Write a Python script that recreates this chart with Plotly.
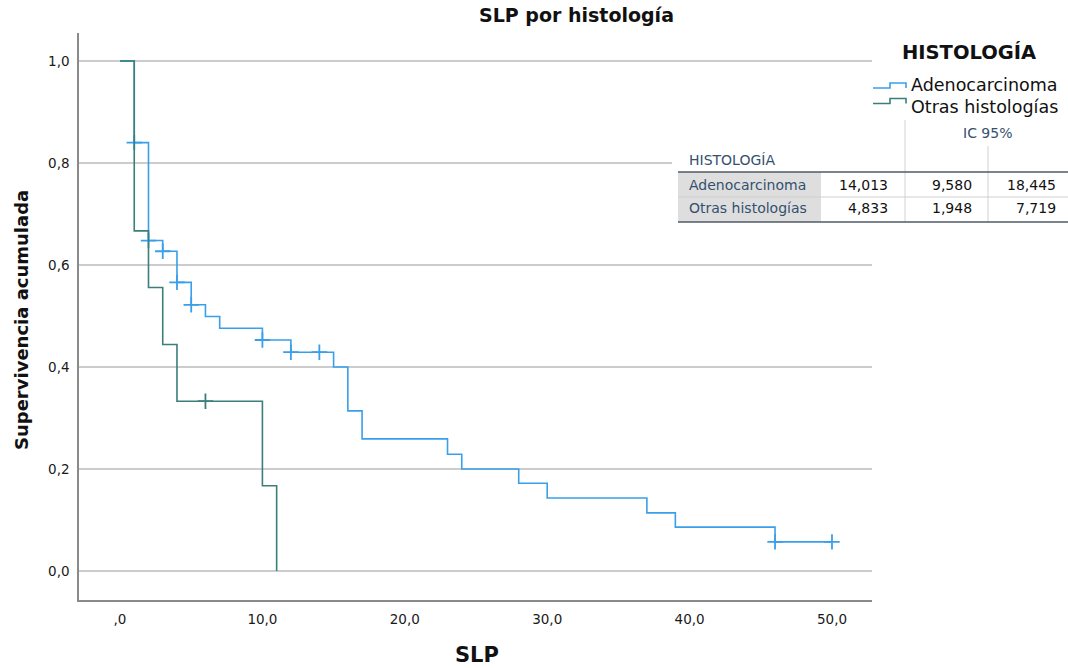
import plotly.graph_objects as go

# ---------------- data ----------------
ade_t = [0, 1, 2, 3, 4, 5, 6, 7, 10, 12, 15, 16, 17, 23, 24, 28, 30, 37, 39, 46, 50]
ade_s = [1.0, 0.84, 0.648, 0.627, 0.566, 0.522, 0.499, 0.476, 0.453, 0.429, 0.400,
         0.314, 0.259, 0.229, 0.200, 0.172, 0.143, 0.114, 0.086, 0.057, 0.057]
ade_cens = [1, 2, 3, 4, 5, 10, 12, 14, 46, 50]

otr_t = [0, 1, 2, 3, 4, 10, 11]
otr_s = [1.0, 0.667, 0.556, 0.444, 0.333, 0.167, 0.0]
otr_cens = [6]

x_ticks = [0, 10, 20, 30, 40, 50]
x_ticktext = [",0", "10,0", "20,0", "30,0", "40,0", "50,0"]
y_ticks = [0, 0.2, 0.4, 0.6, 0.8, 1.0]
y_ticktext = ["0,0", "0,2", "0,4", "0,6", "0,8", "1,0"]

groups = ["Adenocarcinoma", "Otras histologías"]
est = ["14,013", "4,833"]
ci_lo = ["9,580", "1,948"]
ci_hi = ["18,445", "7,719"]

BLUE = "#3A9FEA"
GREEN = "#3A7F7A"
FONT = "DejaVu Sans"


def s_at(ts, ss, t):
    v = ss[0]
    for a, b in zip(ts, ss):
        if a <= t:
            v = b
    return v


fig = go.Figure()
for name, ts, ss, cens, col in [(groups[0], ade_t, ade_s, ade_cens, BLUE),
                                (groups[1], otr_t, otr_s, otr_cens, GREEN)]:
    fig.add_trace(go.Scatter(x=ts, y=ss, mode="lines", line=dict(color=col, width=1.6, shape="hv"),
                             name=name, showlegend=False, hoverinfo="skip"))
    fig.add_trace(go.Scatter(x=cens, y=[s_at(ts, ss, c) for c in cens], mode="markers",
                             marker=dict(symbol="cross-thin-open", size=11, color=col,
                                         line=dict(color=col, width=1.8)),
                             showlegend=False, hoverinfo="skip"))

W, H = 1068, 668
L, R, T, B = 79, 872, 33, 600


def px(x):
    return (x - L) / (R - L)


def py(y):
    return (B - y) / (B - T)


shapes = []
annotations = []

# titles
annotations.append(dict(x=px(576), y=py(15), xref="paper", yref="paper", text="<b>SLP por histología</b>",
                        showarrow=False, font=dict(family=FONT, size=19, color="#111"), xanchor="center", yanchor="middle"))
annotations.append(dict(x=px(477), y=py(655), xref="paper", yref="paper", text="<b>SLP</b>",
                        showarrow=False, font=dict(family=FONT, size=21, color="#111"), xanchor="center", yanchor="middle"))
annotations.append(dict(x=px(21), y=py(320), xref="paper", yref="paper", text="<b>Supervivencia acumulada</b>",
                        showarrow=False, textangle=-90, font=dict(family=FONT, size=18, color="#111"),
                        xanchor="center", yanchor="middle"))

# legend (manual, step-shaped symbols)
annotations.append(dict(x=px(969), y=py(52), xref="paper", yref="paper", text="<b>HISTOLOGÍA</b>",
                        showarrow=False, font=dict(family=FONT, size=19.5, color="#111"), xanchor="center", yanchor="middle"))
for i, (name, col) in enumerate([(groups[0], BLUE), (groups[1], GREEN)]):
    yl = 88 + i * 15.5
    yh = yl - 5
    path = f"M {px(873)} {py(yl)} L {px(890)} {py(yl)} L {px(890)} {py(yh)} L {px(906)} {py(yh)} L {px(906)} {py(yl)}"
    shapes.append(dict(type="path", path=path, xref="paper", yref="paper", line=dict(color=col, width=1.6)))
    annotations.append(dict(x=px(909), y=py(85 + i * 22), xref="paper", yref="paper", text=name,
                            showarrow=False, font=dict(family=FONT, size=17.5, color="#111"),
                            xanchor="left", yanchor="middle"))

# table
shapes.append(dict(type="rect", xref="paper", yref="paper", x0=px(672), x1=px(1068), y0=py(232), y1=py(116),
                   fillcolor="white", line=dict(width=0), layer="above"))
shapes.append(dict(type="rect", xref="paper", yref="paper", x0=px(678), x1=px(821), y0=py(222), y1=py(172),
                   fillcolor="#DEDEDE", line=dict(width=0), layer="above"))
shapes.append(dict(type="line", xref="paper", yref="paper", x0=px(905), x1=px(905), y0=py(222), y1=py(120),
                   line=dict(color="#D2D2D2", width=1), layer="above"))
shapes.append(dict(type="line", xref="paper", yref="paper", x0=px(988), x1=px(988), y0=py(222), y1=py(146),
                   line=dict(color="#D2D2D2", width=1), layer="above"))
shapes.append(dict(type="line", xref="paper", yref="paper", x0=px(678), x1=px(1068), y0=py(197), y1=py(197),
                   line=dict(color="#CFCFCF", width=1), layer="above"))
for yy in (172, 222):
    shapes.append(dict(type="line", xref="paper", yref="paper", x0=px(678), x1=px(1068), y0=py(yy), y1=py(yy),
                       line=dict(color="#4F5B66", width=1.5), layer="above"))

SLATE = "#34506E"
annotations.append(dict(x=px(987), y=py(133), xref="paper", yref="paper", text="IC 95%", showarrow=False,
                        font=dict(family=FONT, size=14, color=SLATE), xanchor="center", yanchor="middle"))
annotations.append(dict(x=px(687), y=py(160), xref="paper", yref="paper", text="HISTOLOGÍA", showarrow=False,
                        font=dict(family=FONT, size=14, color=SLATE), xanchor="left", yanchor="middle"))
for i in range(2):
    yc = 185 + i * 23
    annotations.append(dict(x=px(687), y=py(yc), xref="paper", yref="paper", text=groups[i], showarrow=False,
                            font=dict(family=FONT, size=14, color=SLATE), xanchor="left", yanchor="middle"))
    for xr, val in [(890, est[i]), (974, ci_lo[i]), (1058, ci_hi[i])]:
        annotations.append(dict(x=px(xr), y=py(yc), xref="paper", yref="paper", text=val, showarrow=False,
                                font=dict(family=FONT, size=14, color="#111"), xanchor="right", yanchor="middle"))

fig.update_layout(
    width=W, height=H,
    margin=dict(l=L, r=W - R, t=T, b=H - B, pad=0),
    paper_bgcolor="white", plot_bgcolor="white",
    font=dict(family=FONT, size=13, color="#222"),
    shapes=shapes, annotations=annotations,
    xaxis=dict(range=[-2.88, 52.81], tickvals=x_ticks, ticktext=x_ticktext, showgrid=False, zeroline=False,
               showline=True, linecolor="#8A8A8A", linewidth=1.5, ticks="", ticklabelstandoff=6,
               tickfont=dict(family=FONT, size=13.5, color="#1a1a1a")),
    yaxis=dict(range=[-0.0569, 1.055], tickvals=y_ticks, ticktext=y_ticktext, showgrid=True,
               gridcolor="#CCCCCC", gridwidth=1.5, zeroline=False, showline=True, linecolor="#8A8A8A",
               linewidth=1.5, ticks="", ticklabelstandoff=5,
               tickfont=dict(family=FONT, size=13.5, color="#1a1a1a")),
)

fig.write_html("out.html")
